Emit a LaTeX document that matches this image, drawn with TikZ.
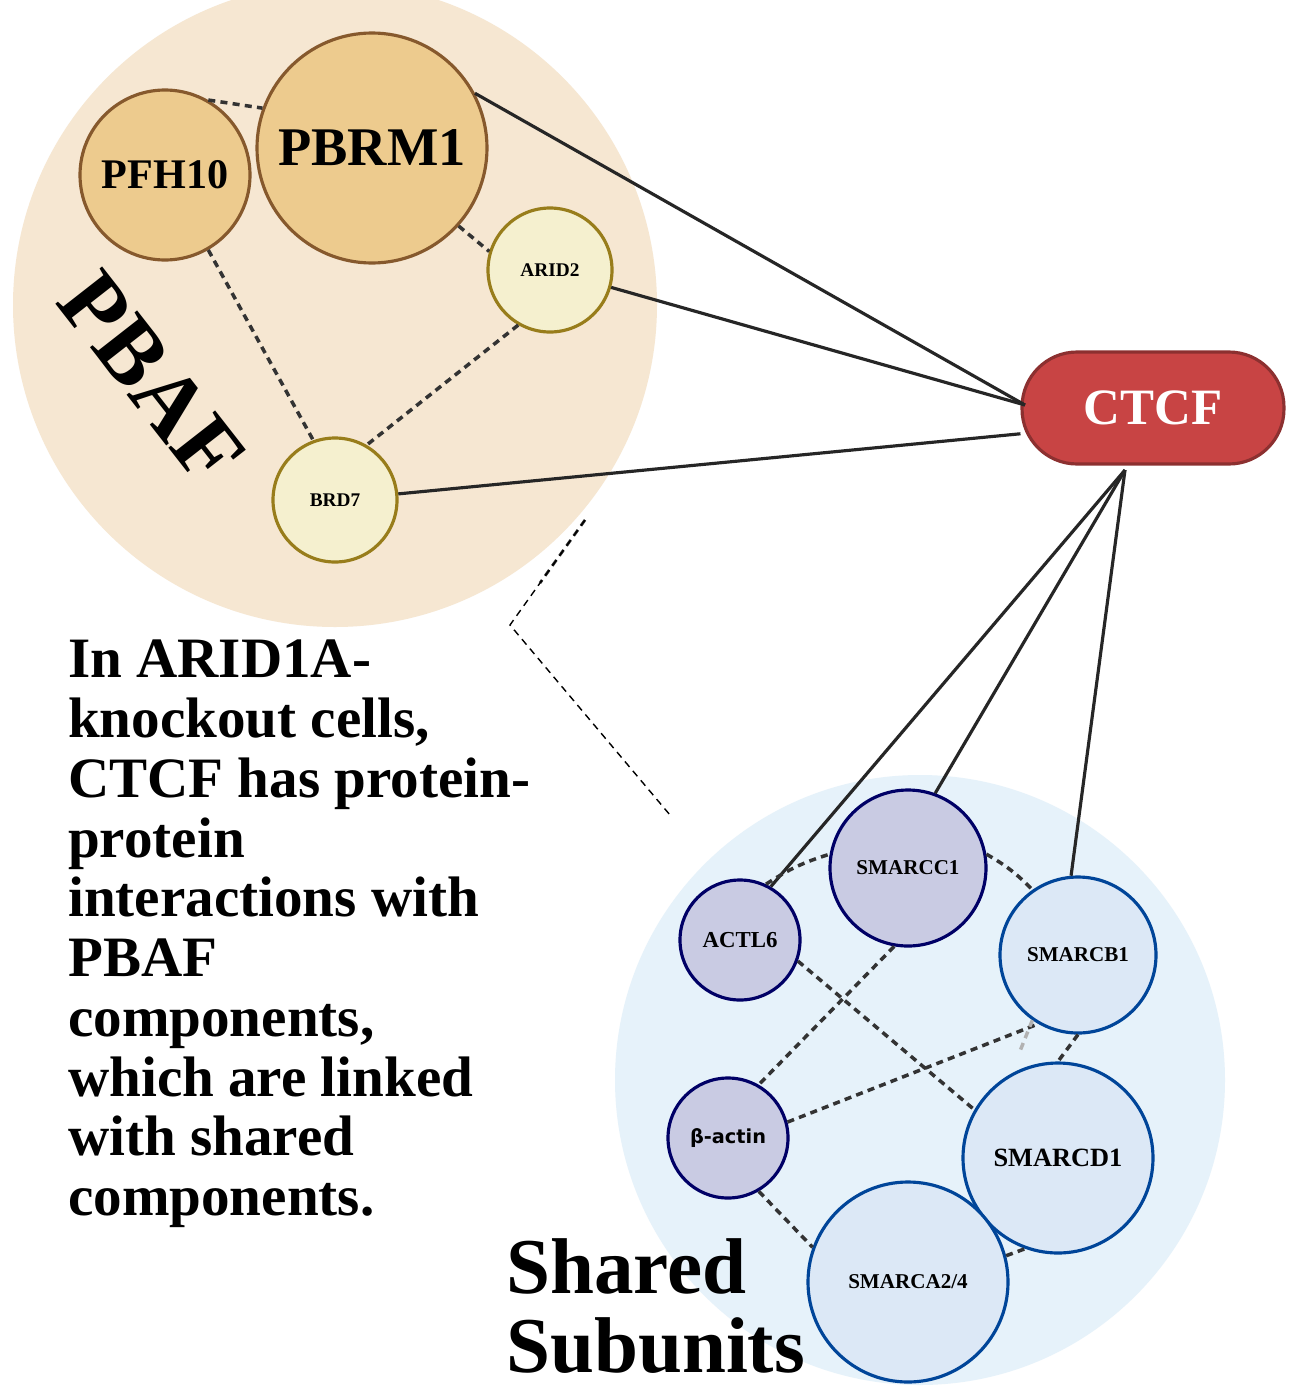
\documentclass[tikz,border=0pt]{standalone}
\usepackage{fontspec}
\setmainfont{Liberation Serif}
\setsansfont{DejaVu Sans}
\usetikzlibrary{calc}
\begin{document}
\begin{tikzpicture}[x=0.02cm,y=-0.02cm,
 ms/.style={minimum size=#1*0.02cm},
 p/.style={circle,draw=#1,line width=1.8pt,inner sep=0pt,font=\bfseries},
 gold/.style={p=brown!70!black,fill=gold1},
 pale/.style={p=brown!60!yellow!70!black,fill=gold2},
 nav/.style={p=blue!40!black,fill=nav1},
 lb/.style={p=blue!55!cyan!60!black,fill=lb1},
 s/.style={line width=1.8pt,draw=black!85},
 d/.style={line width=2pt,dash pattern=on 4pt off 3pt,draw=black!80}]
\definecolor{gold1}{HTML}{EDCB8E}\definecolor{gold2}{HTML}{F5F0CF}
\definecolor{nav1}{HTML}{C9CBE3}\definecolor{lb1}{HTML}{DCE8F6}
\definecolor{beige}{HTML}{F6E7D2}\definecolor{pale blue}{HTML}{E6F2FA}
\definecolor{ctcf}{HTML}{C84444}
\useasboundingbox (0,0) rectangle (1305,1400);
\fill[white] (0,0) rectangle (1305,1400);
\fill[beige] (335,305) circle (322);
\fill[pale blue] (920,1080) circle (305);
\node[gold,ms=170,font=\bfseries\fontsize{24}{24}\selectfont] (pfh) at (165,175) {PFH10};
\node[gold,ms=230,font=\bfseries\fontsize{31}{31}\selectfont] (pbrm) at (372,148) {PBRM1};
\node[pale,ms=124,font=\bfseries\fontsize{11}{11}\selectfont] (arid) at (550,270) {ARID2};
\node[pale,ms=124,font=\bfseries\fontsize{11}{11}\selectfont] (brd) at (335,500) {BRD7};
\node[rotate=-52,font=\bfseries\fontsize{52}{52}\selectfont] (pbaf) at (152,378) {PBAF};
\node[rounded corners=1.1cm,fill=ctcf,draw=ctcf!70!black,line width=1.8pt,minimum width=5.24cm,minimum height=2.24cm,text=white,font=\bfseries\fontsize{29}{29}\selectfont] (ctcf) at (1153,408) {CTCF};
\node[nav,ms=120,font=\bfseries\fontsize{13}{13}\selectfont] (actl) at (740,940) {ACTL6};
\node[nav,ms=156,font=\bfseries\fontsize{12}{12}\selectfont] (smc) at (908,868) {SMARCC1};
\node[lb,ms=156,font=\bfseries\fontsize{12}{12}\selectfont] (smb) at (1078,955) {SMARCB1};
\node[nav,ms=120,font=\sffamily\bfseries\fontsize{11}{11}\selectfont] (bact) at (728,1138) {β-actin};
\node[lb,ms=190,font=\bfseries\fontsize{15}{15}\selectfont] (smd) at (1058,1158) {SMARCD1};
\node[lb,ms=200,font=\bfseries\fontsize{12}{12}\selectfont] (sma) at (908,1282) {SMARCA2/4};
% solid
\coordinate (cl) at (1025,405);
\draw[s] (pbrm.28) -- (cl);
\draw[s] (arid) -- (cl);
\draw[s] (brd) -- (ctcf.191);
\coordinate (cb) at (1125,470);
\draw[s] (cb) -- (actl.60);
\draw[s] (cb) -- (smc.70);
\draw[s] (cb) -- (smb.95);
% dashed
\draw[d] (pfh.60) -- (pbrm.160);
\draw[d] (pbrm.-42) -- (arid.163);
\draw[d] (pfh.-60) -- (brd.110);
\draw[d] (arid.-120) -- (brd.60);
\draw[d] (actl.65) to[bend left=8] (smc.170);
\draw[d] (smc.10) to[bend left=8] (smb.125);
\draw[d] (actl.-20) -- (smd.150);
\draw[d] (smc.-100) -- (bact.60);
\draw[d] (bact.15) -- (smb.-120);
\draw[d] (smb.-90) -- (smd.90);
\draw[d] (bact.-60) -- (sma.160);
\draw[d] (sma.15) -- (smd.-110);
\draw[d,draw=gray!60] (smb.-125) -- +(-12,30);
\coordinate (k1) at (585,520); \coordinate (k2) at (510,625); \coordinate (k3) at (670,815);
\draw[d,line width=1.6pt] (k1) -- ($(k1)!0.6!(k2)$);
\draw[dash pattern=on 4pt off 3pt,line width=0.8pt] (k1) -- (k2) -- (k3);
\node[anchor=north west,align=left,font=\bfseries\fontsize{32.5}{34}\selectfont] (txt) at (62,634) {In ARID1A-\\knockout cells,\\CTCF has protein-\\protein\\interactions with\\PBAF\\components,\\which are linked\\with shared\\components.};
\node[anchor=north west,align=left,font=\bfseries\fontsize{45}{45}\selectfont] (sh) at (500,1232) {Shared\\Subunits};
\end{tikzpicture}
\end{document}
